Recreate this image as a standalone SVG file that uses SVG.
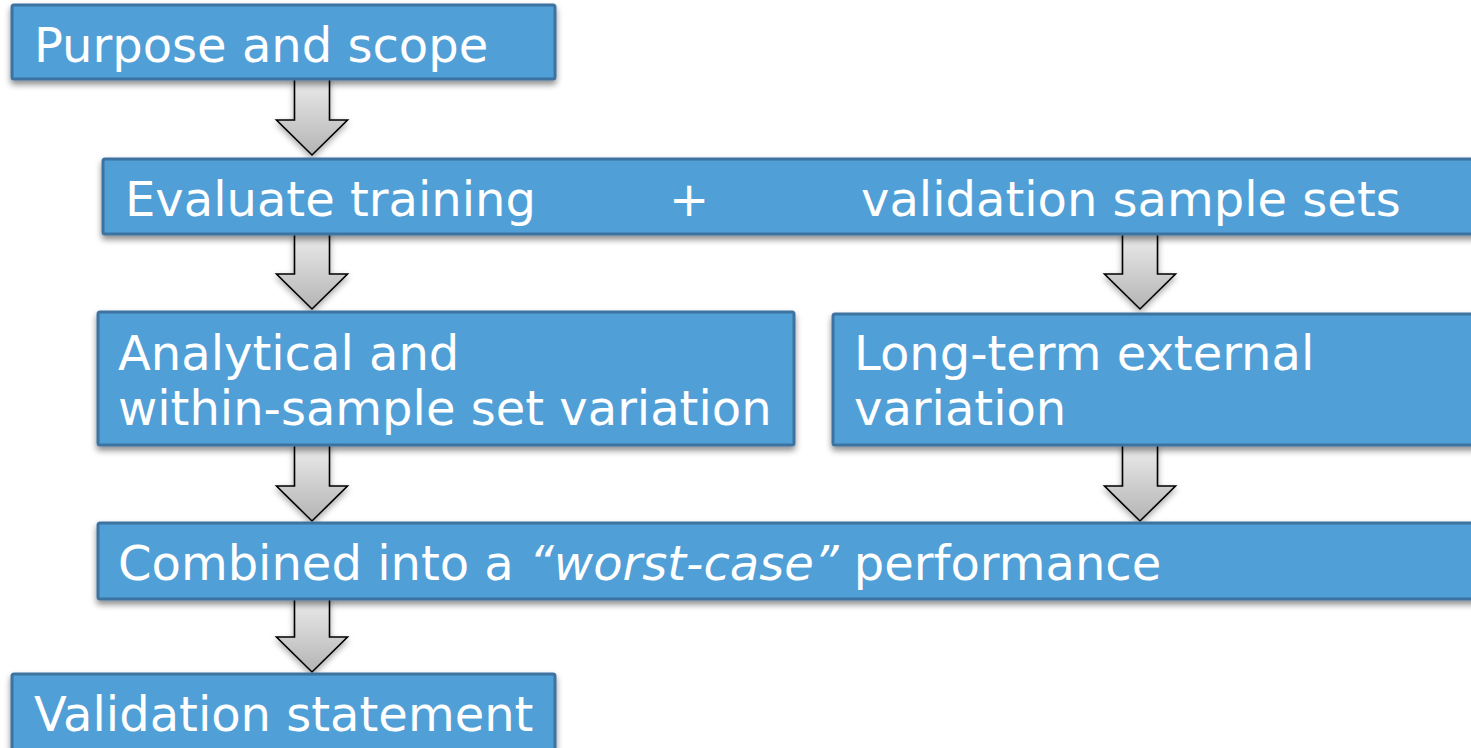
<svg xmlns="http://www.w3.org/2000/svg" width="1471" height="748" viewBox="0 0 1471 748">
<defs>
<filter id="sh" x="-5%" y="-20%" width="110%" height="150%">
<feDropShadow dx="0" dy="4" stdDeviation="3" flood-color="#000" flood-opacity="0.45"/>
</filter>
<filter id="ash" x="-30%" y="-30%" width="160%" height="160%">
<feDropShadow dx="0" dy="3" stdDeviation="3" flood-color="#000" flood-opacity="0.35"/>
</filter>
<linearGradient id="ag" x1="0" y1="0" x2="0" y2="1">
<stop offset="0" stop-color="#ececec"/>
<stop offset="1" stop-color="#b4b4b4"/>
</linearGradient>
<style>
.box{fill:#519fd7;stroke:#3c73a0;stroke-width:3;filter:url(#sh)}
.t{font-family:"DejaVu Sans","Verdana",sans-serif;font-size:48px;fill:#ffffff}
.arr{fill:url(#ag);stroke:#000;stroke-width:1.6;stroke-linejoin:miter;filter:url(#ash)}
</style>
</defs>
<rect width="1471" height="748" fill="#ffffff"/>
<g id="connectors">
<path class="arr" d="M294.5,78 L329.5,78 L329.5,120 L347.5,120 L312,155 L276.5,120 L294.5,120 Z"/>
<path class="arr" d="M294.5,233 L329.5,233 L329.5,274 L347.5,274 L312,309 L276.5,274 L294.5,274 Z"/>
<path class="arr" d="M1122.5,233 L1157.5,233 L1157.5,274 L1175.5,274 L1140,309 L1104.5,274 L1122.5,274 Z"/>
<path class="arr" d="M294.5,444 L329.5,444 L329.5,486 L347.5,486 L312,521 L276.5,486 L294.5,486 Z"/>
<path class="arr" d="M1122.5,444 L1157.5,444 L1157.5,486 L1175.5,486 L1140,521 L1104.5,486 L1122.5,486 Z"/>
<path class="arr" d="M294.5,598 L329.5,598 L329.5,637 L347.5,637 L312,672 L276.5,637 L294.5,637 Z"/>
</g>
<g id="n1">
<rect class="box" x="12" y="5" width="543" height="74" rx="2"/>
<text class="t" x="34" y="62">Purpose and scope</text>
</g>
<g id="n2">
<rect class="box" x="103" y="159" width="1390" height="75" rx="2"/>
<text class="t" x="125" y="216">Evaluate training</text>
<text class="t" x="669" y="216">+</text>
<text class="t" x="861" y="216">validation sample sets</text>
</g>
<g id="n3">
<rect class="box" x="98" y="312" width="696" height="133" rx="2"/>
<text class="t" x="118" y="370">Analytical and</text>
<text class="t" x="118" y="425">within-sample set variation</text>
</g>
<g id="n4">
<rect class="box" x="833" y="314" width="660" height="131" rx="2"/>
<text class="t" x="854" y="370">Long-term external</text>
<text class="t" x="854" y="425">variation</text>
</g>
<g id="n5">
<rect class="box" x="98" y="523" width="1395" height="76" rx="2"/>
<text class="t" x="118" y="580">Combined into a <tspan font-style="italic">“worst-case”</tspan> performance</text>
</g>
<g id="n6">
<rect class="box" x="12" y="674" width="543" height="90" rx="2"/>
<text class="t" x="34" y="731">Validation statement</text>
</g>
</svg>
